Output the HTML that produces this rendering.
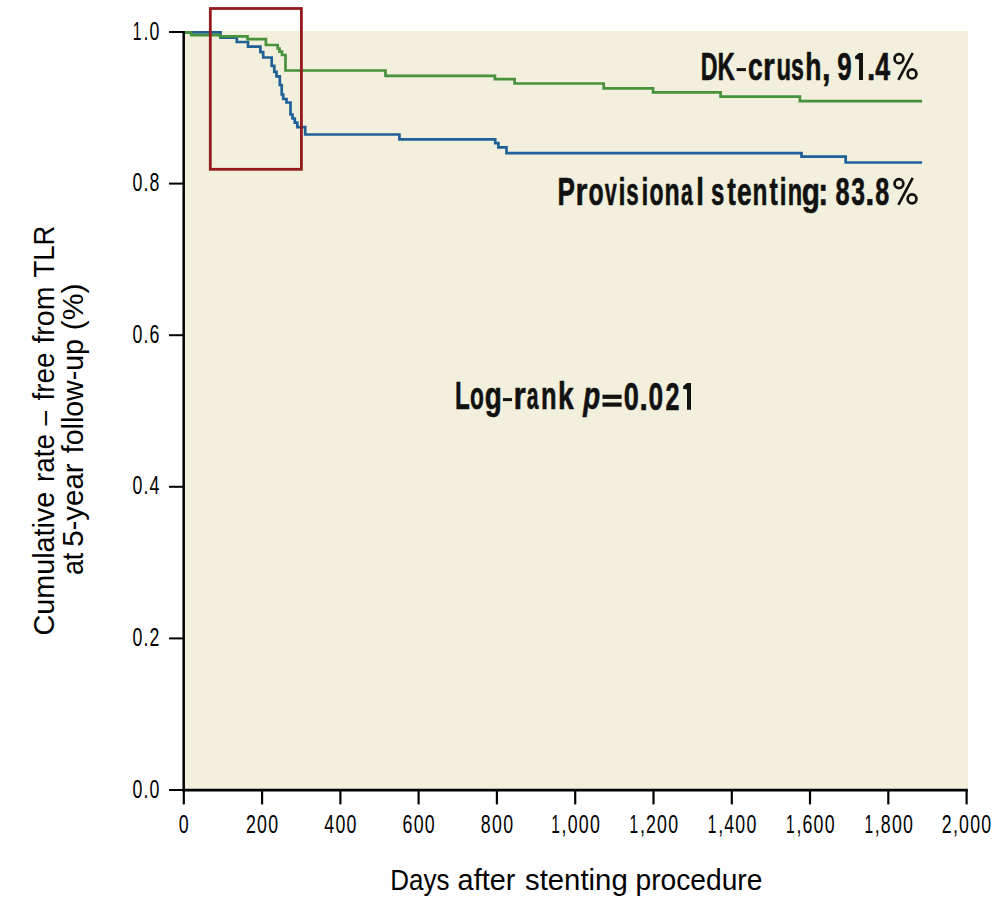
<!DOCTYPE html>
<html><head><meta charset="utf-8"><style>
html,body{margin:0;padding:0;background:#fff;overflow:hidden;}
svg{display:block;font-family:"Liberation Sans",sans-serif;}
</style></head><body>
<svg width="1005" height="908" viewBox="0 0 1005 908">
<rect x="184" y="31" width="784" height="759.5" fill="#F2EFDC"/>
<path d="M184,32.4 H220.6 V37.6 H236.8 V42 H248 V46.6 H260.4 V52.2 H263.2 V57.5 H271.7 V65.9 H274.3 V71.9 H276.5 V76.3 H279.8 V85 H281.7 V94.5 H283.2 V99 H286.5 V102.5 H290.5 V114.5 H292.5 V118.5 H294.8 V122.6 H297.3 V127.1 H305.2 V134.5 H399.4 V139.3 H495.2 V143.2 H498.4 V147.3 H506.5 V153.2 H801.5 V156.6 H845.7 V162.5 H922.1" fill="none" stroke="#1F6097" stroke-width="2.7" stroke-linejoin="miter" stroke-linecap="butt"/>
<path d="M184,32.4 H191.2 V35.1 H220 V36.3 H247.5 V39.2 H265.9 V45 H277.7 V48.5 H279.5 V51.7 H282 V55 H285.5 V70.5 H385.5 V75.9 H494.9 V79.2 H514.6 V83.5 H603.7 V88.4 H653.1 V92.4 H720.6 V96.6 H799.9 V101.2 H922.1" fill="none" stroke="#47923A" stroke-width="2.7" stroke-linejoin="miter" stroke-linecap="butt"/>
<g stroke="#000" fill="none">
<line x1="183.7" y1="31" x2="183.7" y2="791.5" stroke-width="2.5"/>
<line x1="182.5" y1="790.2" x2="967.8" y2="790.2" stroke-width="2.8"/>
<line x1="169" y1="32.0" x2="184" y2="32.0" stroke-width="2"/>
<line x1="169" y1="183.6" x2="184" y2="183.6" stroke-width="2"/>
<line x1="169" y1="335.2" x2="184" y2="335.2" stroke-width="2"/>
<line x1="169" y1="486.8" x2="184" y2="486.8" stroke-width="2"/>
<line x1="169" y1="638.4" x2="184" y2="638.4" stroke-width="2"/>
<line x1="169" y1="790.0" x2="184" y2="790.0" stroke-width="2"/>
<line x1="183.8" y1="790" x2="183.8" y2="804.4" stroke-width="2.2"/>
<line x1="262.1" y1="790" x2="262.1" y2="804.4" stroke-width="2.2"/>
<line x1="340.4" y1="790" x2="340.4" y2="804.4" stroke-width="2.2"/>
<line x1="418.6" y1="790" x2="418.6" y2="804.4" stroke-width="2.2"/>
<line x1="496.9" y1="790" x2="496.9" y2="804.4" stroke-width="2.2"/>
<line x1="575.2" y1="790" x2="575.2" y2="804.4" stroke-width="2.2"/>
<line x1="653.5" y1="790" x2="653.5" y2="804.4" stroke-width="2.2"/>
<line x1="731.8" y1="790" x2="731.8" y2="804.4" stroke-width="2.2"/>
<line x1="810.0" y1="790" x2="810.0" y2="804.4" stroke-width="2.2"/>
<line x1="888.3" y1="790" x2="888.3" y2="804.4" stroke-width="2.2"/>
<line x1="966.6" y1="790" x2="966.6" y2="804.4" stroke-width="2.2"/>
</g>
<rect x="210.3" y="8.5" width="91.1" height="160.8" fill="none" stroke="#931B1E" stroke-width="2.8"/>
<text x="132.66" y="39.50" font-size="25" fill="#000" textLength="8.60" lengthAdjust="spacingAndGlyphs">1</text>
<text x="143.51" y="39.50" font-size="25" fill="#000" textLength="4.94" lengthAdjust="spacingAndGlyphs">.</text>
<text x="149.53" y="39.50" font-size="25" fill="#000" textLength="9.87" lengthAdjust="spacingAndGlyphs">0</text>
<text x="132.53" y="191.10" font-size="25" fill="#000" textLength="9.87" lengthAdjust="spacingAndGlyphs">0</text>
<text x="143.51" y="191.10" font-size="25" fill="#000" textLength="4.94" lengthAdjust="spacingAndGlyphs">.</text>
<text x="149.53" y="191.10" font-size="25" fill="#000" textLength="9.87" lengthAdjust="spacingAndGlyphs">8</text>
<text x="132.53" y="342.70" font-size="25" fill="#000" textLength="9.87" lengthAdjust="spacingAndGlyphs">0</text>
<text x="143.51" y="342.70" font-size="25" fill="#000" textLength="4.94" lengthAdjust="spacingAndGlyphs">.</text>
<text x="149.53" y="342.70" font-size="25" fill="#000" textLength="9.87" lengthAdjust="spacingAndGlyphs">6</text>
<text x="132.53" y="494.30" font-size="25" fill="#000" textLength="9.87" lengthAdjust="spacingAndGlyphs">0</text>
<text x="143.51" y="494.30" font-size="25" fill="#000" textLength="4.94" lengthAdjust="spacingAndGlyphs">.</text>
<text x="149.53" y="494.30" font-size="25" fill="#000" textLength="9.87" lengthAdjust="spacingAndGlyphs">4</text>
<text x="132.53" y="645.90" font-size="25" fill="#000" textLength="9.87" lengthAdjust="spacingAndGlyphs">0</text>
<text x="143.51" y="645.90" font-size="25" fill="#000" textLength="4.94" lengthAdjust="spacingAndGlyphs">.</text>
<text x="149.53" y="645.90" font-size="25" fill="#000" textLength="9.87" lengthAdjust="spacingAndGlyphs">2</text>
<text x="132.53" y="797.50" font-size="25" fill="#000" textLength="9.87" lengthAdjust="spacingAndGlyphs">0</text>
<text x="143.51" y="797.50" font-size="25" fill="#000" textLength="4.94" lengthAdjust="spacingAndGlyphs">.</text>
<text x="149.53" y="797.50" font-size="25" fill="#000" textLength="9.87" lengthAdjust="spacingAndGlyphs">0</text>
<text x="178.83" y="832.60" font-size="25" fill="#000" textLength="9.87" lengthAdjust="spacingAndGlyphs">0</text>
<text x="245.91" y="832.60" font-size="25" fill="#000" textLength="9.87" lengthAdjust="spacingAndGlyphs">2</text>
<text x="257.11" y="832.60" font-size="25" fill="#000" textLength="9.87" lengthAdjust="spacingAndGlyphs">0</text>
<text x="268.31" y="832.60" font-size="25" fill="#000" textLength="9.87" lengthAdjust="spacingAndGlyphs">0</text>
<text x="324.19" y="832.60" font-size="25" fill="#000" textLength="9.87" lengthAdjust="spacingAndGlyphs">4</text>
<text x="335.39" y="832.60" font-size="25" fill="#000" textLength="9.87" lengthAdjust="spacingAndGlyphs">0</text>
<text x="346.59" y="832.60" font-size="25" fill="#000" textLength="9.87" lengthAdjust="spacingAndGlyphs">0</text>
<text x="402.47" y="832.60" font-size="25" fill="#000" textLength="9.87" lengthAdjust="spacingAndGlyphs">6</text>
<text x="413.67" y="832.60" font-size="25" fill="#000" textLength="9.87" lengthAdjust="spacingAndGlyphs">0</text>
<text x="424.87" y="832.60" font-size="25" fill="#000" textLength="9.87" lengthAdjust="spacingAndGlyphs">0</text>
<text x="480.75" y="832.60" font-size="25" fill="#000" textLength="9.87" lengthAdjust="spacingAndGlyphs">8</text>
<text x="491.95" y="832.60" font-size="25" fill="#000" textLength="9.87" lengthAdjust="spacingAndGlyphs">0</text>
<text x="503.15" y="832.60" font-size="25" fill="#000" textLength="9.87" lengthAdjust="spacingAndGlyphs">0</text>
<text x="551.26" y="832.60" font-size="25" fill="#000" textLength="8.60" lengthAdjust="spacingAndGlyphs">1</text>
<text x="561.62" y="832.60" font-size="25" fill="#000" textLength="4.94" lengthAdjust="spacingAndGlyphs">,</text>
<text x="567.63" y="832.60" font-size="25" fill="#000" textLength="9.87" lengthAdjust="spacingAndGlyphs">0</text>
<text x="578.78" y="832.60" font-size="25" fill="#000" textLength="9.87" lengthAdjust="spacingAndGlyphs">0</text>
<text x="589.88" y="832.60" font-size="25" fill="#000" textLength="9.87" lengthAdjust="spacingAndGlyphs">0</text>
<text x="629.54" y="832.60" font-size="25" fill="#000" textLength="8.60" lengthAdjust="spacingAndGlyphs">1</text>
<text x="639.89" y="832.60" font-size="25" fill="#000" textLength="4.94" lengthAdjust="spacingAndGlyphs">,</text>
<text x="645.91" y="832.60" font-size="25" fill="#000" textLength="9.87" lengthAdjust="spacingAndGlyphs">2</text>
<text x="657.06" y="832.60" font-size="25" fill="#000" textLength="9.87" lengthAdjust="spacingAndGlyphs">0</text>
<text x="668.16" y="832.60" font-size="25" fill="#000" textLength="9.87" lengthAdjust="spacingAndGlyphs">0</text>
<text x="707.82" y="832.60" font-size="25" fill="#000" textLength="8.60" lengthAdjust="spacingAndGlyphs">1</text>
<text x="718.17" y="832.60" font-size="25" fill="#000" textLength="4.94" lengthAdjust="spacingAndGlyphs">,</text>
<text x="724.19" y="832.60" font-size="25" fill="#000" textLength="9.87" lengthAdjust="spacingAndGlyphs">4</text>
<text x="735.34" y="832.60" font-size="25" fill="#000" textLength="9.87" lengthAdjust="spacingAndGlyphs">0</text>
<text x="746.44" y="832.60" font-size="25" fill="#000" textLength="9.87" lengthAdjust="spacingAndGlyphs">0</text>
<text x="786.10" y="832.60" font-size="25" fill="#000" textLength="8.60" lengthAdjust="spacingAndGlyphs">1</text>
<text x="796.45" y="832.60" font-size="25" fill="#000" textLength="4.94" lengthAdjust="spacingAndGlyphs">,</text>
<text x="802.47" y="832.60" font-size="25" fill="#000" textLength="9.87" lengthAdjust="spacingAndGlyphs">6</text>
<text x="813.62" y="832.60" font-size="25" fill="#000" textLength="9.87" lengthAdjust="spacingAndGlyphs">0</text>
<text x="824.72" y="832.60" font-size="25" fill="#000" textLength="9.87" lengthAdjust="spacingAndGlyphs">0</text>
<text x="864.38" y="832.60" font-size="25" fill="#000" textLength="8.60" lengthAdjust="spacingAndGlyphs">1</text>
<text x="874.73" y="832.60" font-size="25" fill="#000" textLength="4.94" lengthAdjust="spacingAndGlyphs">,</text>
<text x="880.75" y="832.60" font-size="25" fill="#000" textLength="9.87" lengthAdjust="spacingAndGlyphs">8</text>
<text x="891.90" y="832.60" font-size="25" fill="#000" textLength="9.87" lengthAdjust="spacingAndGlyphs">0</text>
<text x="903.00" y="832.60" font-size="25" fill="#000" textLength="9.87" lengthAdjust="spacingAndGlyphs">0</text>
<text x="941.83" y="832.60" font-size="25" fill="#000" textLength="9.87" lengthAdjust="spacingAndGlyphs">2</text>
<text x="953.01" y="832.60" font-size="25" fill="#000" textLength="4.94" lengthAdjust="spacingAndGlyphs">,</text>
<text x="959.03" y="832.60" font-size="25" fill="#000" textLength="9.87" lengthAdjust="spacingAndGlyphs">0</text>
<text x="970.18" y="832.60" font-size="25" fill="#000" textLength="9.87" lengthAdjust="spacingAndGlyphs">0</text>
<text x="981.28" y="832.60" font-size="25" fill="#000" textLength="9.87" lengthAdjust="spacingAndGlyphs">0</text>
<text x="700.67" y="79.60" font-size="38.2" font-weight="bold" fill="#111" stroke="#111" stroke-width="0.6" stroke-linejoin="round" textLength="16.79" lengthAdjust="spacingAndGlyphs">D</text>
<text x="717.61" y="79.60" font-size="38.2" font-weight="bold" fill="#111" stroke="#111" stroke-width="0.6" stroke-linejoin="round" textLength="17.35" lengthAdjust="spacingAndGlyphs">K</text>
<text x="747.91" y="79.60" font-size="38.2" font-weight="bold" fill="#111" stroke="#111" stroke-width="0.6" stroke-linejoin="round" textLength="14.76" lengthAdjust="spacingAndGlyphs">c</text>
<text x="763.03" y="79.60" font-size="38.2" font-weight="bold" fill="#111" stroke="#111" stroke-width="0.6" stroke-linejoin="round" textLength="11.76" lengthAdjust="spacingAndGlyphs">r</text>
<text x="776.45" y="79.60" font-size="38.2" font-weight="bold" fill="#111" stroke="#111" stroke-width="0.6" stroke-linejoin="round" textLength="14.61" lengthAdjust="spacingAndGlyphs">u</text>
<text x="791.09" y="79.60" font-size="38.2" font-weight="bold" fill="#111" stroke="#111" stroke-width="0.6" stroke-linejoin="round" textLength="12.87" lengthAdjust="spacingAndGlyphs">s</text>
<text x="805.32" y="79.60" font-size="38.2" font-weight="bold" fill="#111" stroke="#111" stroke-width="0.6" stroke-linejoin="round" textLength="16.20" lengthAdjust="spacingAndGlyphs">h</text>
<text x="822.00" y="79.60" font-size="38.2" font-weight="bold" fill="#111" stroke="#111" stroke-width="0.6" stroke-linejoin="round" textLength="8.50" lengthAdjust="spacingAndGlyphs">,</text>
<text x="837.32" y="79.60" font-size="38.2" font-weight="bold" fill="#111" stroke="#111" stroke-width="0.6" stroke-linejoin="round" textLength="14.43" lengthAdjust="spacingAndGlyphs">9</text>
<text x="866.96" y="79.60" font-size="38.2" font-weight="bold" fill="#111" stroke="#111" stroke-width="0.6" stroke-linejoin="round" textLength="8.29" lengthAdjust="spacingAndGlyphs">.</text>
<text x="875.20" y="79.60" font-size="38.2" font-weight="bold" fill="#111" stroke="#111" stroke-width="0.6" stroke-linejoin="round" textLength="14.88" lengthAdjust="spacingAndGlyphs">4</text>
<text x="557.44" y="204.50" font-size="38.2" font-weight="bold" fill="#111" stroke="#111" stroke-width="0.6" stroke-linejoin="round" textLength="17.48" lengthAdjust="spacingAndGlyphs">P</text>
<text x="575.50" y="204.50" font-size="38.2" font-weight="bold" fill="#111" stroke="#111" stroke-width="0.6" stroke-linejoin="round" textLength="11.90" lengthAdjust="spacingAndGlyphs">r</text>
<text x="588.50" y="204.50" font-size="38.2" font-weight="bold" fill="#111" stroke="#111" stroke-width="0.6" stroke-linejoin="round" textLength="15.16" lengthAdjust="spacingAndGlyphs">o</text>
<text x="604.80" y="204.50" font-size="38.2" font-weight="bold" fill="#111" stroke="#111" stroke-width="0.6" stroke-linejoin="round" textLength="12.04" lengthAdjust="spacingAndGlyphs">v</text>
<text x="618.52" y="204.50" font-size="38.2" font-weight="bold" fill="#111" stroke="#111" stroke-width="0.6" stroke-linejoin="round" textLength="7.01" lengthAdjust="spacingAndGlyphs">i</text>
<text x="626.33" y="204.50" font-size="38.2" font-weight="bold" fill="#111" stroke="#111" stroke-width="0.6" stroke-linejoin="round" textLength="12.40" lengthAdjust="spacingAndGlyphs">s</text>
<text x="641.58" y="204.50" font-size="38.2" font-weight="bold" fill="#111" stroke="#111" stroke-width="0.6" stroke-linejoin="round" textLength="6.80" lengthAdjust="spacingAndGlyphs">i</text>
<text x="649.60" y="204.50" font-size="38.2" font-weight="bold" fill="#111" stroke="#111" stroke-width="0.6" stroke-linejoin="round" textLength="14.00" lengthAdjust="spacingAndGlyphs">o</text>
<text x="664.55" y="204.50" font-size="38.2" font-weight="bold" fill="#111" stroke="#111" stroke-width="0.6" stroke-linejoin="round" textLength="15.16" lengthAdjust="spacingAndGlyphs">n</text>
<text x="681.05" y="204.50" font-size="38.2" font-weight="bold" fill="#111" stroke="#111" stroke-width="0.6" stroke-linejoin="round" textLength="11.74" lengthAdjust="spacingAndGlyphs">a</text>
<text x="696.14" y="204.50" font-size="38.2" font-weight="bold" fill="#111" stroke="#111" stroke-width="0.6" stroke-linejoin="round" textLength="7.65" lengthAdjust="spacingAndGlyphs">l</text>
<text x="710.94" y="204.50" font-size="38.2" font-weight="bold" fill="#111" stroke="#111" stroke-width="0.6" stroke-linejoin="round" textLength="13.34" lengthAdjust="spacingAndGlyphs">s</text>
<text x="727.20" y="204.50" font-size="38.2" font-weight="bold" fill="#111" stroke="#111" stroke-width="0.6" stroke-linejoin="round" textLength="8.59" lengthAdjust="spacingAndGlyphs">t</text>
<text x="736.92" y="204.50" font-size="38.2" font-weight="bold" fill="#111" stroke="#111" stroke-width="0.6" stroke-linejoin="round" textLength="14.64" lengthAdjust="spacingAndGlyphs">e</text>
<text x="752.58" y="204.50" font-size="38.2" font-weight="bold" fill="#111" stroke="#111" stroke-width="0.6" stroke-linejoin="round" textLength="14.90" lengthAdjust="spacingAndGlyphs">n</text>
<text x="769.40" y="204.50" font-size="38.2" font-weight="bold" fill="#111" stroke="#111" stroke-width="0.6" stroke-linejoin="round" textLength="8.27" lengthAdjust="spacingAndGlyphs">t</text>
<text x="779.68" y="204.50" font-size="38.2" font-weight="bold" fill="#111" stroke="#111" stroke-width="0.6" stroke-linejoin="round" textLength="6.80" lengthAdjust="spacingAndGlyphs">i</text>
<text x="787.75" y="204.50" font-size="38.2" font-weight="bold" fill="#111" stroke="#111" stroke-width="0.6" stroke-linejoin="round" textLength="14.39" lengthAdjust="spacingAndGlyphs">n</text>
<text x="801.64" y="204.50" font-size="38.2" font-weight="bold" fill="#111" stroke="#111" stroke-width="0.6" stroke-linejoin="round" textLength="18.17" lengthAdjust="spacingAndGlyphs">g</text>
<text x="818.18" y="204.50" font-size="38.2" font-weight="bold" fill="#111" stroke="#111" stroke-width="0.6" stroke-linejoin="round" textLength="9.92" lengthAdjust="spacingAndGlyphs">:</text>
<text x="835.54" y="204.50" font-size="38.2" font-weight="bold" fill="#111" stroke="#111" stroke-width="0.6" stroke-linejoin="round" textLength="14.09" lengthAdjust="spacingAndGlyphs">8</text>
<text x="851.25" y="204.50" font-size="38.2" font-weight="bold" fill="#111" stroke="#111" stroke-width="0.6" stroke-linejoin="round" textLength="13.76" lengthAdjust="spacingAndGlyphs">3</text>
<text x="865.32" y="204.50" font-size="38.2" font-weight="bold" fill="#111" stroke="#111" stroke-width="0.6" stroke-linejoin="round" textLength="9.14" lengthAdjust="spacingAndGlyphs">.</text>
<text x="875.24" y="204.50" font-size="38.2" font-weight="bold" fill="#111" stroke="#111" stroke-width="0.6" stroke-linejoin="round" textLength="13.98" lengthAdjust="spacingAndGlyphs">8</text>
<text x="454.91" y="409.40" font-size="38.2" font-weight="bold" fill="#111" stroke="#111" stroke-width="0.6" stroke-linejoin="round" textLength="14.73" lengthAdjust="spacingAndGlyphs">L</text>
<text x="469.91" y="409.40" font-size="38.2" font-weight="bold" fill="#111" stroke="#111" stroke-width="0.6" stroke-linejoin="round" textLength="13.88" lengthAdjust="spacingAndGlyphs">o</text>
<text x="484.64" y="409.40" font-size="38.2" font-weight="bold" fill="#111" stroke="#111" stroke-width="0.6" stroke-linejoin="round" textLength="17.07" lengthAdjust="spacingAndGlyphs">g</text>
<text x="513.42" y="409.40" font-size="38.2" font-weight="bold" fill="#111" stroke="#111" stroke-width="0.6" stroke-linejoin="round" textLength="12.31" lengthAdjust="spacingAndGlyphs">r</text>
<text x="526.85" y="409.40" font-size="38.2" font-weight="bold" fill="#111" stroke="#111" stroke-width="0.6" stroke-linejoin="round" textLength="11.74" lengthAdjust="spacingAndGlyphs">a</text>
<text x="541.00" y="409.40" font-size="38.2" font-weight="bold" fill="#111" stroke="#111" stroke-width="0.6" stroke-linejoin="round" textLength="15.55" lengthAdjust="spacingAndGlyphs">n</text>
<text x="557.88" y="409.40" font-size="38.2" font-weight="bold" fill="#111" stroke="#111" stroke-width="0.6" stroke-linejoin="round" textLength="15.70" lengthAdjust="spacingAndGlyphs">k</text>
<text x="583.23" y="409.40" font-size="38.2" font-weight="bold" font-style="italic" fill="#111" stroke="#111" stroke-width="0.6" stroke-linejoin="round" textLength="16.94" lengthAdjust="spacingAndGlyphs">p</text>
<text x="623.78" y="409.60" font-size="38.2" font-weight="bold" fill="#111" stroke="#111" stroke-width="0.6" stroke-linejoin="round" textLength="15.11" lengthAdjust="spacingAndGlyphs">0</text>
<text x="639.56" y="409.60" font-size="38.2" font-weight="bold" fill="#111" stroke="#111" stroke-width="0.6" stroke-linejoin="round" textLength="8.29" lengthAdjust="spacingAndGlyphs">.</text>
<text x="648.42" y="409.60" font-size="38.2" font-weight="bold" fill="#111" stroke="#111" stroke-width="0.6" stroke-linejoin="round" textLength="14.64" lengthAdjust="spacingAndGlyphs">0</text>
<text x="665.54" y="409.60" font-size="38.2" font-weight="bold" fill="#111" stroke="#111" stroke-width="0.6" stroke-linejoin="round" textLength="13.98" lengthAdjust="spacingAndGlyphs">2</text>
<text x="390.24" y="889.80" font-size="29.5" fill="#000" textLength="59.13" lengthAdjust="spacingAndGlyphs">Days</text>
<text x="457.62" y="889.80" font-size="29.5" fill="#000" textLength="57.71" lengthAdjust="spacingAndGlyphs">after</text>
<text x="525.01" y="889.80" font-size="29.5" fill="#000" textLength="102.71" lengthAdjust="spacingAndGlyphs">stenting</text>
<text x="635.49" y="889.80" font-size="29.5" fill="#000" textLength="126.92" lengthAdjust="spacingAndGlyphs">procedure</text>
<text transform="translate(53.90,635.45) rotate(-90)" x="0" y="0" font-size="29.5" fill="#000" textLength="143.77" lengthAdjust="spacingAndGlyphs">Cumulative</text>
<text transform="translate(53.90,481.88) rotate(-90)" x="0" y="0" font-size="29.5" fill="#000" textLength="47.77" lengthAdjust="spacingAndGlyphs">rate</text>
<text transform="translate(53.90,425.50) rotate(-90)" x="0" y="0" font-size="29.5" fill="#000" textLength="14.57" lengthAdjust="spacingAndGlyphs">–</text>
<text transform="translate(53.90,400.40) rotate(-90)" x="0" y="0" font-size="29.5" fill="#000" textLength="47.89" lengthAdjust="spacingAndGlyphs">free</text>
<text transform="translate(53.90,343.60) rotate(-90)" x="0" y="0" font-size="29.5" fill="#000" textLength="57.03" lengthAdjust="spacingAndGlyphs">from</text>
<text transform="translate(53.90,277.53) rotate(-90)" x="0" y="0" font-size="29.5" fill="#000" textLength="52.05" lengthAdjust="spacingAndGlyphs">TLR</text>
<text transform="translate(82.80,575.11) rotate(-90)" x="0" y="0" font-size="29.5" fill="#000" textLength="22.35" lengthAdjust="spacingAndGlyphs">at</text>
<text transform="translate(82.80,546.80) rotate(-90)" x="0" y="0" font-size="29.5" fill="#000" textLength="83.42" lengthAdjust="spacingAndGlyphs">5-year</text>
<text transform="translate(82.80,453.20) rotate(-90)" x="0" y="0" font-size="29.5" fill="#000" textLength="114.13" lengthAdjust="spacingAndGlyphs">follow-up</text>
<text transform="translate(82.80,330.24) rotate(-90)" x="0" y="0" font-size="29.5" fill="#000" textLength="46.87" lengthAdjust="spacingAndGlyphs">(%)</text>
<g fill="none" stroke="#111" stroke-width="2.7"><ellipse cx="898.95" cy="58.70" rx="4.4" ry="4.55"/><ellipse cx="912.05" cy="73.95" rx="4.4" ry="4.55"/><line x1="898.4" y1="79.90" x2="912.7" y2="53.00" stroke-width="2.6"/></g>
<g fill="none" stroke="#111" stroke-width="2.7"><ellipse cx="898.95" cy="183.60" rx="4.4" ry="4.55"/><ellipse cx="912.05" cy="198.85" rx="4.4" ry="4.55"/><line x1="898.4" y1="204.80" x2="912.7" y2="177.90" stroke-width="2.6"/></g>
<path fill="#111" d="M859,53 H863 V79.9 H859 V59.6 L855.1,58.7 V56.3 Z"/>
<path fill="#111" d="M687,383 H691 V409.8 H687 V389.6 L683.1,388.7 V386.3 Z"/>
<rect x="736.6" y="68.1" width="9.3" height="3" fill="#111"/>
<rect x="503" y="398.1" width="9" height="3" fill="#111"/>
<g fill="#111"><rect x="602.5" y="394.7" width="19.1" height="4.2"/><rect x="602.5" y="402.5" width="19.1" height="4.2"/></g>
</svg>
</body></html>
